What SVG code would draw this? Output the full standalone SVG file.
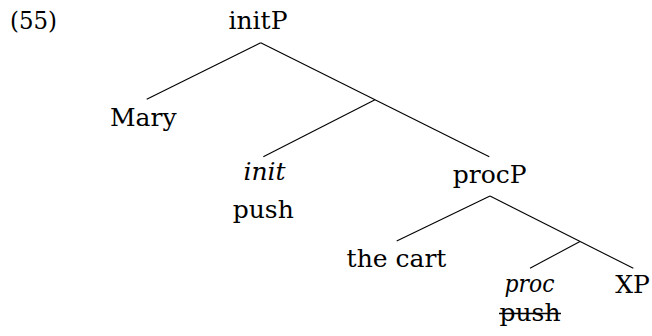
<svg xmlns="http://www.w3.org/2000/svg" width="652" height="336" viewBox="0 0 652 336">
<style>
text{font-family:'DejaVu Serif',serif;font-size:25px;fill:#000;text-anchor:middle}
.it{font-style:italic}
.edge{stroke:#000;stroke-width:1.1;fill:none}
</style>
<rect width="652" height="336" fill="#fff"/>
<text x="10" y="29" style="text-anchor:start" textLength="47" lengthAdjust="spacingAndGlyphs">(55)</text>
<g id="connectors">
<line class="edge" x1="260.7" y1="42.7" x2="146.7" y2="99.3"/>
<line class="edge" x1="260.7" y1="42.7" x2="489.3" y2="156.7"/>
<line class="edge" x1="375" y1="99.8" x2="263.3" y2="156.7"/>
<line class="edge" x1="490" y1="196" x2="396.7" y2="241"/>
<line class="edge" x1="490" y1="196" x2="633.3" y2="268.3"/>
<line class="edge" x1="580" y1="241.4" x2="530" y2="268.3"/>
</g>
<g id="initP"><text x="258" y="29">initP</text></g>
<g id="Mary"><text x="143.3" y="126">Mary</text></g>
<g id="init"><text class="it" x="264.5" y="180">init</text><text x="263.3" y="218">push</text></g>
<g id="procP"><text x="489.7" y="183">procP</text></g>
<g id="thecart"><text x="396.5" y="267">the cart</text></g>
<g id="proc"><text class="it" x="529.5" y="292" textLength="50" lengthAdjust="spacingAndGlyphs">proc</text><text x="530" y="321">push</text><line class="edge" x1="499" y1="313.5" x2="561" y2="313.5" style="stroke-width:1.6"/></g>
<g id="XP"><text x="632.5" y="293">XP</text></g>
</svg>
